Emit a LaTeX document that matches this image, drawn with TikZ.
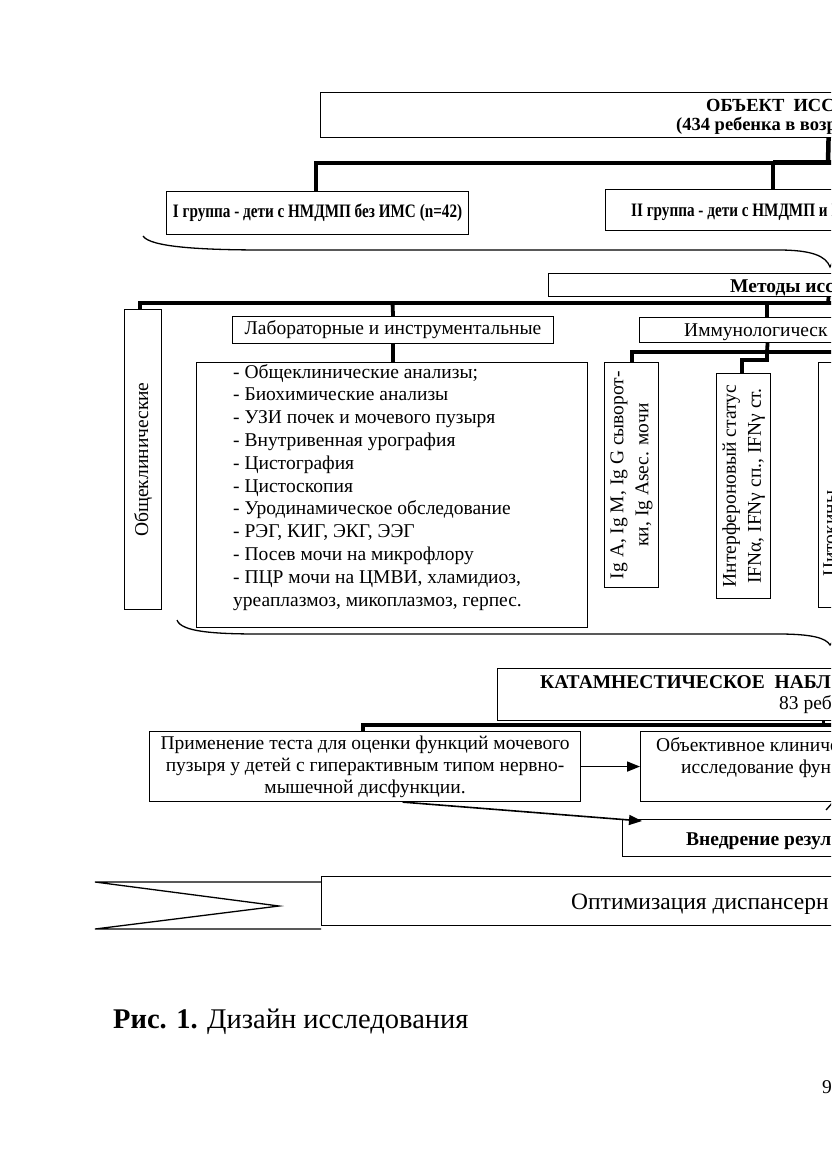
\documentclass[tikz,border=0pt]{standalone}
\usepackage{fontspec}
\setmainfont{Liberation Serif}
\newfontfamily\serf{Liberation Serif}
\newfontfamily\condf[FakeStretch=0.8]{Liberation Serif}
\usetikzlibrary{arrows.meta}
\newcommand\myfs[2]{\fontsize{#1}{#2}\selectfont}
\begin{document}
\begin{tikzpicture}[x=1pt,y=-1pt,
  box/.style={draw, line width=1.1pt, inner sep=0pt, anchor=north west},
  conn/.style={line width=3.8pt},
  thinl/.style={line width=1.3pt},
  txt/.style={inner sep=0pt, font=\serf\myfs{19.5}{22.8}},
  btxt/.style={inner sep=0pt, font=\serf\myfs{19.5}{22.8}\bfseries},
  arr/.style={line width=1.6pt, -{Triangle[length=13pt,width=10pt]}},
]
\useasboundingbox (0,0) rectangle (831,1174);
\begin{scope}
\clip (0,0) rectangle (831,1174);

% ---------- object ----------
\node[box, minimum width=1016pt, minimum height=45pt] (obj) at (320,92) {};
\node[btxt, anchor=base west, font=\serf\myfs{18.5}{21}\bfseries] (objA) at (706,111.5) {ОБЪЕКТ\ \ ИСС};
\node[btxt, anchor=base west, font=\serf\myfs{18.5}{21}\bfseries] (objB) at (676,131) {(434 ребенка в возра};

\node[box, minimum width=302pt, minimum height=43pt] (g1) at (166,191) {};
\node[inner sep=0pt, font=\condf\myfs{19}{22}\bfseries] (g1t) at (g1.center) {I группа - дети с НМДМП без ИМС (n=42)};
\node[box, minimum width=500pt, minimum height=41pt] (g2) at (605,189) {};
\node[inner sep=0pt, anchor=base west, font=\condf\myfs{19}{22}\bfseries] (g2t) at (631,217) {II группа - дети с НМДМП и И};

\coordinate (t1) at (828,163);
\coordinate (t2) at (773,163);
\coordinate (t3) at (316,163);
\coordinate (tR) at (845,163);
\draw[conn, line width=4.5pt] (obj.south) -- (t1);
\draw[conn, line width=3.2pt] (t3 |- g1.north) -- (t3) -- (t2);
\draw[conn, line width=5pt] (t2) -- (tR);
\draw[conn, line width=3.2pt] (t2) -- (t2 |- g2.north);

% brace 1
\draw[thinl] (143,236) .. controls (150,247) and (200,250) .. (265,250) -- (778,250)
  .. controls (812,250) and (826,256) .. (830,267)
  .. controls (834,256) and (848,250) .. (882,250);

% ---------- methods ----------
\node[box, minimum width=560pt, minimum height=23pt] (meth) at (548,273) {};
\node[btxt, anchor=base west] (metht) at (730,292) {Методы исс};

\coordinate (m1) at (828,303);
\coordinate (m0) at (140,303);
\coordinate (mL) at (392.5,303);
\coordinate (mI) at (767,303);
\coordinate (mR) at (845,303);

\node[box, minimum width=37pt, minimum height=300pt] (gen) at (124,309) {};
\node[txt, rotate=90] (gent) at (gen.center) {Общеклинические};

\node[box, minimum width=321pt, minimum height=27pt] (lab) at (232,316) {};
\node[txt] (labt) at (lab.center) {Лабораторные и инструментальные};

\node[box, minimum width=391pt, minimum height=265pt] (list) at (196,362) {};
\node[txt, anchor=north west, align=left] (listt) at (233,364) {- Общеклинические анализы;\\
- Биохимические анализы\\
- УЗИ почек и мочевого пузыря\\
- Внутривенная урография\\
- Цистография\\
- Цистоскопия\\
- Уродинамическое обследование\\
- РЭГ, КИГ, ЭКГ, ЭЭГ\\
- Посев мочи на микрофлору\\
- ПЦР мочи на ЦМВИ, хламидиоз,\\
уреаплазмоз, микоплазмоз, герпес.};

\node[box, minimum width=256pt, minimum height=25pt] (imm) at (639,317) {};
\node[txt, anchor=base west] (immt) at (684,336) {Иммунологическ};

\node[box, minimum width=54pt, minimum height=225pt] (ig) at (604,362) {};
\node[txt, rotate=90, align=center, font=\serf\myfs{19.5}{25}] (igt) at (ig.center) {Ig A, Ig M, Ig G сыворот-\\ки, Ig Asec. мочи};

\node[box, minimum width=54pt, minimum height=225pt] (ifn) at (716,373) {};
\node[txt, rotate=90, align=center, font=\serf\myfs{19.5}{25}] (ifnt) at (ifn.center) {Интерфероновый статус\\IFNα, IFNγ сп., IFNγ ст.};

\node[box, minimum width=54pt, minimum height=245pt] (cyt) at (818,362) {};
\node[txt, rotate=90, anchor=base west] (cytt) at (836,577) {Цитокины};

\draw[conn] (meth.south) -- (m1);
\draw[conn] (m0 |- gen.north) -- (m0) -- (mR);
\draw[conn] (mL) -- (lab.north);
\draw[conn] (mI) -- (mI |- imm.north);
\draw[conn] (lab.south) -- (list.north -| lab.south);

\coordinate (i1) at (767,352);
\coordinate (i0) at (632,352);
\coordinate (iR) at (845,352);
\coordinate (i2) at (767,360);
\coordinate (i3) at (742,360);
\draw[conn] (imm.south) -- (i1);
\draw[conn] (i0 |- ig.north) -- (i0) -- (iR);
\draw[conn, line width=3.4pt] (i1) -- (i2) -- (i3) -- (i3 |- ifn.north);

% brace 2
\draw[thinl] (177,620) .. controls (181,632) and (215,634) .. (260,634) -- (778,634)
  .. controls (812,634) and (826,638) .. (830,645)
  .. controls (834,638) and (848,634) .. (882,634);

% ---------- catamnesis ----------
\node[box, minimum width=662pt, minimum height=52pt] (cat) at (497,668) {};
\node[btxt, anchor=base west] (catA) at (540,688.5) {КАТАМНЕСТИЧЕСКОЕ\ \ НАБЛ};
\node[txt, anchor=base west] (catB) at (779,709) {83 реб};

\node[box, minimum width=431pt, minimum height=70pt, align=center, font=\serf\myfs{19.5}{22}] (app) at (149,731) {Применение теста для оценки функций мочевого\\пузыря у детей с гиперактивным типом нервно-\\мышечной дисфункции.};

\node[box, minimum width=400pt, minimum height=70pt] (ob2) at (640,731) {};
\node[txt, anchor=base west] (ob2A) at (656,751) {Объективное клиниче};
\node[txt, anchor=base west] (ob2B) at (681,773) {исследование фун};

\node[box, minimum width=500pt, minimum height=37pt] (vn) at (622,819) {};
\node[btxt, anchor=base west] (vnt) at (686,845) {Внедрение резул};

\coordinate (c0) at (363,725);
\coordinate (cR) at (845,725);
\coordinate (cj) at (823,725);
\draw[conn, line width=3.4pt] (app.north -| c0) -- (c0) -- (cR);
\draw[conn, line width=3pt] (cat.south -| cj) -- (cj);

\draw[arr] (app.east) -- (ob2.west);
\draw[arr] ([xshift=37.5pt]app.south) -- ([xshift=20pt,yshift=-2pt]vn.north west);
\draw[thinl] (834,801) -- (826,810);

% ---------- ribbon ----------
\draw[thinl] (321,882) -- (95,882) -- (279,906) -- (95,929) -- (321,929);
\node[box, minimum width=1014pt, minimum height=49pt] (opt) at (321,876) {};
\node[txt, anchor=base west, font=\serf\myfs{23.5}{26}] (optt) at (571,909) {Оптимизация диспансерн};

% ---------- caption ----------
\node[inner sep=0pt, anchor=base west, font=\serf\myfs{28.5}{30}] (capt) at (113,1028) {\textbf{Рис. 1.} Дизайн исследования};
\node[txt, anchor=base west] (pg) at (822,1093) {9};
\end{scope}
\end{tikzpicture}
\end{document}
